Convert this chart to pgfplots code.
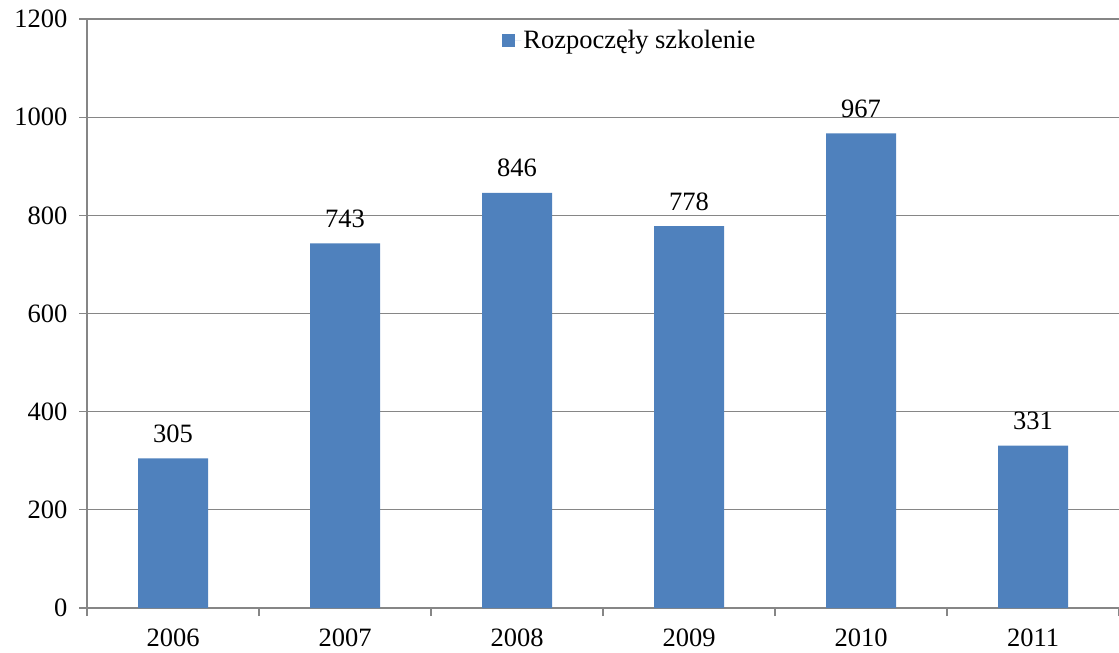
\documentclass[border=0pt]{standalone}
\usepackage{fontspec}
\setmainfont{Liberation Serif}
\usepackage{pgfplots}
\pgfplotsset{compat=1.18}
\usetikzlibrary{calc}
\definecolor{barblue}{HTML}{4F81BD}
\definecolor{gridgray}{HTML}{868686}

\begin{document}
\begin{tikzpicture}
\begin{axis}[
  scale only axis,
  width=1032pt, height=589pt,
  ybar, bar width=70pt,
  ymin=0, ymax=1200, ytick={0,200,...,1200},
  xmin=-0.5, xmax=5.5,
  xtick={-0.5,0.5,...,5.5},
  x tick label as interval,
  xticklabels={2006,2007,2008,2009,2010,2011},
  axis x line*=bottom, axis y line*=left,
  axis line style={gridgray, line width=1.2pt, -},
  every tick/.style={draw=gridgray, line width=1.2pt},
  tick align=outside, major tick length=8pt,
  ymajorgrids, grid style={gridgray, line width=1.2pt},
  /pgf/number format/1000 sep={},
  /pgf/number format/assume math mode=true,
  tick label style={font=\fontsize{26.5}{31}\selectfont},
  yticklabel style={xshift=-8pt},
  xticklabel style={yshift=-9pt},
  nodes near coords,
  every node near coord/.append style={font=\fontsize{26.5}{31}\selectfont, yshift=12pt},
  legend style={at={(0.526,0.964)}, anchor=center, draw=none, fill=none,
    font=\fontsize{26.5}{31}\selectfont},
  legend image code/.code={\path (0pt,0pt) -- (19pt,0pt);\fill[barblue] (0pt,-7pt) rectangle (13pt,6pt);},
  clip=false,
]
\addplot[fill=barblue, draw=none] coordinates {(0,305) (1,743) (2,846) (3,778) (4,967) (5,331)};
\addlegendentry{Rozpoczęły szkolenie}
\end{axis}
\pgfresetboundingbox
\path[use as bounding box] ($(current axis.south west)+(-87pt,-44pt)$) rectangle ($(current axis.north east)+(0pt,19pt)$);
\end{tikzpicture}
\end{document}
